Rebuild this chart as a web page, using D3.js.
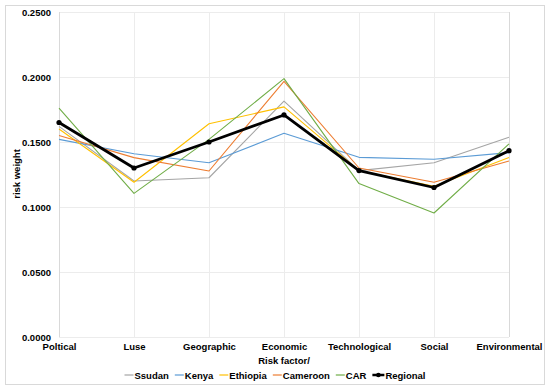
<!DOCTYPE html>
<html>
<head>
<meta charset="utf-8">
<script src="https://cdn.jsdelivr.net/npm/d3@7"></script>
<style>
  body { margin: 0; background: #fff; }
  text { font-family: "Liberation Sans", Arial, sans-serif; font-weight: bold; fill: #000; }
</style>
</head>
<body>
<svg id="chart" width="550" height="390"></svg>
<script>
// categories along the x axis
var factors = ["Poltical", "Luse", "Geographic", "Economic", "Technological", "Social", "Environmental"];
var yTicks = [0, 0.05, 0.10, 0.15, 0.20, 0.25];

// risk weights per country
var ssudan   = [0.162, 0.120, 0.1225, 0.1815, 0.128, 0.134, 0.1536];
var kenya    = [0.152, 0.141, 0.134, 0.1567, 0.1382, 0.1367, 0.1418];
var ethiopia = [0.160, 0.119, 0.164, 0.177, 0.128, 0.116, 0.138];
var cameroon = [0.155, 0.138, 0.1277, 0.1967, 0.130, 0.119, 0.1354];
var car      = [0.176, 0.1105, 0.152, 0.1987, 0.118, 0.0954, 0.1485];
var regional = [0.165, 0.130, 0.150, 0.1708, 0.128, 0.115, 0.1433];

var seriesNames  = ["Ssudan", "Kenya", "Ethiopia", "Cameroon", "CAR", "Regional"];
var seriesValues = [ssudan, kenya, ethiopia, cameroon, car, regional];
var seriesColors = ["#a5a5a5", "#5b9bd5", "#ffc000", "#ed7d31", "#70ad47", "#000000"];

var svg = d3.select("#chart");

//outer chart frame
svg.append("rect")
	.attr("x", 5.5).attr("y", 5.5)
	.attr("width", 539).attr("height", 379)
	.attr("fill", "#fff")
	.attr("stroke", "#d9d9d9");

var x = d3.scalePoint().domain(factors).range([59, 509]);
var y = d3.scaleLinear().domain([0, 0.25]).range([337, 12]);

//horizontal gridlines
svg.append("g")
	.selectAll("line")
	.data(yTicks)
	.enter().append("line")
	.attr("x1", 59).attr("x2", 509)
	.attr("y1", function (d) { return Math.round(y(d)) + 0.5; })
	.attr("y2", function (d) { return Math.round(y(d)) + 0.5; })
	.attr("stroke", "#ececec");

//vertical gridlines at each category
svg.append("g")
	.selectAll("line")
	.data(factors)
	.enter().append("line")
	.attr("x1", function (d) { return Math.round(x(d)) + 0.5; })
	.attr("x2", function (d) { return Math.round(x(d)) + 0.5; })
	.attr("y1", 12).attr("y2", 337)
	.attr("stroke", function (d, i) { return (i == 0 || i == factors.length - 1) ? "#d9d9d9" : "#ececec"; });

//y axis labels
var yAxis = d3.axisLeft(y).tickValues(yTicks).tickSize(0).tickPadding(8)
	.tickFormat(d3.format(".4f"));
var gy = svg.append("g").attr("transform", "translate(59,0)").call(yAxis);
gy.select(".domain").remove();
gy.selectAll("text").style("font-size", "9.5px").attr("font-family", null);

//x axis labels
var xAxis = d3.axisBottom(x).tickSize(0).tickPadding(6);
var gx = svg.append("g").attr("transform", "translate(0,337)").call(xAxis);
gx.select(".domain").remove();
gx.selectAll("text").style("font-size", "9.5px").attr("font-family", null);

//axis titles
svg.append("text")
	.attr("x", 284).attr("y", 364)
	.attr("text-anchor", "middle")
	.style("font-size", "9.5px")
	.text("Risk  factor/");

svg.append("text")
	.attr("transform", "translate(20,174) rotate(-90)")
	.attr("text-anchor", "middle")
	.style("font-size", "9.5px")
	.text("risk weight");

//series lines
var line = d3.line()
	.x(function (d, i) { return x(factors[i]); })
	.y(function (d) { return y(d); });

seriesValues.forEach(function (vals, s) {
	var isRegional = seriesNames[s] == "Regional";
	svg.append("path")
		.datum(vals)
		.attr("fill", "none")
		.attr("stroke", seriesColors[s])
		.attr("stroke-width", isRegional ? 2.8 : 1.1)
		.attr("stroke-linejoin", "round")
		.attr("d", line);
	if (isRegional) {
		svg.append("g")
			.selectAll("circle")
			.data(vals)
			.enter().append("circle")
			.attr("cx", function (d, i) { return x(factors[i]); })
			.attr("cy", function (d) { return y(d); })
			.attr("r", 2.6)
			.attr("fill", "#000");
	}
});

//legend, laid out by measured text widths and centred
var legend = svg.append("g");
var cursor = 0;
seriesNames.forEach(function (name, s) {
	var item = legend.append("g").attr("transform", "translate(" + cursor + ",0)");
	var isRegional = name == "Regional";
	var lw = isRegional ? 12 : 9;
	item.append("line")
		.attr("x1", 0).attr("x2", lw)
		.attr("y1", 0).attr("y2", 0)
		.attr("stroke", seriesColors[s])
		.attr("stroke-width", isRegional ? 2.5 : 1.2);
	if (isRegional) {
		item.append("circle").attr("cx", lw / 2).attr("cy", 0).attr("r", 2.3).attr("fill", "#000");
	}
	var t = item.append("text")
		.attr("x", lw + 1).attr("y", 3.5)
		.style("font-size", "9.5px")
		.text(name);
	cursor += lw + 1 + t.node().getComputedTextLength() + 6;
});
cursor -= 6;
legend.attr("transform", "translate(" + (275 - cursor / 2) + ",375)");
</script>
</body>
</html>
